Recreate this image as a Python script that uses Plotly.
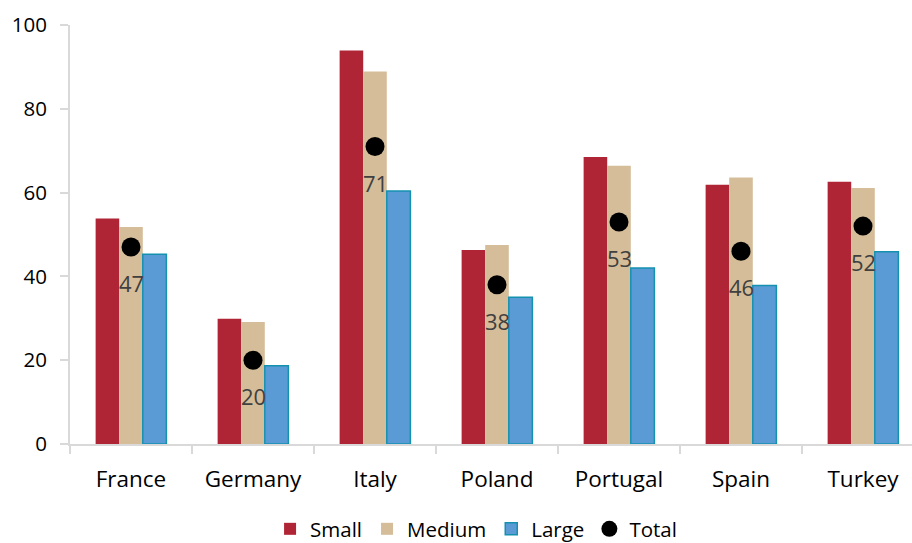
import plotly.graph_objects as go

countries = ["France", "Germany", "Italy", "Poland", "Portugal", "Spain", "Turkey"]
small = [53.8, 29.9, 93.9, 46.3, 68.5, 61.9, 62.6]
medium = [51.8, 29.1, 88.9, 47.5, 66.4, 63.6, 61.1]
large = [45.3, 18.7, 60.4, 35.0, 42.0, 37.8, 45.9]
total = [47, 20, 71, 38, 53, 46, 52]
y_ticks = [0, 20, 40, 60, 80, 100]

FONT = "'Open Sans', sans-serif"
AXIS_GREY = "#d9d9d9"

fig = go.Figure()
fig.add_trace(go.Bar(name="Small", x=countries, y=small,
                     marker=dict(color="#b02536", line=dict(width=0))))
fig.add_trace(go.Bar(name="Medium", x=countries, y=medium,
                     marker=dict(color="#d5bd99", line=dict(width=0))))
fig.add_trace(go.Bar(name="Large", x=countries, y=large,
                     marker=dict(color="#5b9bd5", line=dict(color="#1591b0", width=1.5))))
fig.add_trace(go.Scatter(name="Total", x=countries, y=total, mode="markers",
                         marker=dict(color="black", size=19)))

# value labels under each total marker
for c, v in zip(countries, total):
    fig.add_annotation(x=c, y=v, text=str(v), showarrow=False, yshift=-36,
                       font=dict(family=FONT, size=22, color="#404040"))

fig.update_layout(
    width=912, height=543,
    margin=dict(l=70, r=0, t=25, b=99, autoexpand=False),
    paper_bgcolor="white", plot_bgcolor="white",
    barmode="group", bargap=0.42, bargroupgap=0,
    font=dict(family=FONT, size=20, color="black"),
    showlegend=True,
    legend=dict(orientation="h", x=0.522, xref="container", xanchor="center",
                y=14 / 543, yref="container", yanchor="middle",
                font=dict(family=FONT, size=20.5, color="black"),
                itemwidth=30, traceorder="normal"),
)
fig.update_xaxes(
    range=[-0.5, -0.5 + 842 / 122], automargin=False,
    showline=True, linecolor=AXIS_GREY, linewidth=2,
    ticks="outside", tickson="boundaries", ticklen=8, tickcolor=AXIS_GREY, tickwidth=2,
    showgrid=False, tickfont=dict(family=FONT, size=22.5, color="black"),
    ticklabelstandoff=14,
)
fig.update_yaxes(
    range=[0, 100], tickvals=y_ticks, automargin=False,
    showline=True, linecolor=AXIS_GREY, linewidth=2,
    ticks="outside", ticklen=8, tickcolor=AXIS_GREY, tickwidth=2,
    showgrid=False, zeroline=False, tickfont=dict(family=FONT, size=20.5, color="black"),
    ticklabelstandoff=9,
)

fig.write_html("out.html")
